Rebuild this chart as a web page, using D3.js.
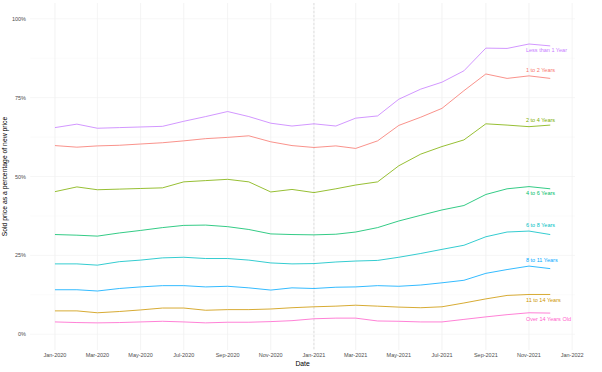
<script src="https://d3js.org/d3.v7.min.js"></script>
<style>
body {margin: 0; background: #fff;}
* {font-family: "Liberation Sans", Arial, sans-serif;}
</style>
<div id="chart"></div>
<script type="text/javascript">
// monthly observations
var months = ["2020-01","2020-02","2020-03","2020-04","2020-05","2020-06","2020-07","2020-08","2020-09","2020-10","2020-11","2020-12",
	"2021-01","2021-02","2021-03","2021-04","2021-05","2021-06","2021-07","2021-08","2021-09","2021-10","2021-11","2021-12"];

var groups = ["1 to 2 Years","11 to 14 Years","2 to 4 Years","4 to 6 Years","6 to 8 Years","8 to 11 Years","Less than 1 Year","Over 14 Years Old"];
var colours = ["#F8766D","#CD9600","#7CAE00","#00BE67","#00BFC4","#00A9FF","#C77CFF","#FF61CC"];

// sold price as % of new price
var oneToTwo = [59.8,59.3,59.7,59.9,60.3,60.7,61.3,62.0,62.4,62.9,61.0,59.8,59.2,59.7,58.9,61.3,66.2,68.8,71.6,77.2,82.5,81.1,81.9,81.1];
var elevenToFourteen = [7.4,7.4,6.8,7.2,7.7,8.3,8.3,7.6,7.8,7.8,8.0,8.4,8.7,8.9,9.2,8.9,8.6,8.4,8.7,9.9,11.2,12.3,12.6,12.6];
var twoToFour = [45.2,46.7,45.8,46.0,46.2,46.4,48.3,48.7,49.1,48.3,45.1,45.9,44.9,46.1,47.3,48.3,53.4,57.1,59.5,61.6,66.7,66.3,65.8,66.3];
var fourToSix = [31.6,31.4,31.1,32.1,32.9,33.8,34.5,34.6,34.1,33.2,31.8,31.6,31.5,31.7,32.4,33.8,35.9,37.7,39.4,40.8,44.3,46.1,46.8,46.1];
var sixToEight = [22.3,22.3,21.9,23.0,23.5,24.2,24.4,24.0,24.0,23.5,22.6,22.3,22.4,22.9,23.2,23.4,24.4,25.6,26.9,28.2,30.9,32.4,32.7,31.6];
var eightToEleven = [14.1,14.1,13.7,14.5,15.0,15.4,15.4,15.0,15.2,14.7,14.0,14.7,14.5,14.9,15.0,15.4,15.2,15.6,16.3,17.1,19.3,20.5,21.6,20.8];
var lessThanOne = [65.5,66.6,65.3,65.5,65.7,65.9,67.5,69.0,70.6,69.0,66.9,66.0,66.7,66.0,68.5,69.2,74.5,77.7,79.9,83.5,90.7,90.6,92.0,91.4];
var overFourteen = [3.9,3.7,3.6,3.7,3.9,4.1,3.9,3.6,3.8,3.8,4.0,4.3,4.9,5.1,5.1,4.2,4.1,3.9,3.9,4.7,5.5,6.2,6.8,6.7];

var seriesValues = [oneToTwo, elevenToFourteen, twoToFour, fourToSix, sixToEight, eightToEleven, lessThanOne, overFourteen];
// where each end label sits (% value)
var labelY = [83.9,10.7,68.0,44.9,34.6,23.4,90.2,4.7];
var labelDate = "2021-11-01";
var yTicks = [0,25,50,75,100];

var width = 602, height = 372;
var parse = d3.timeParse("%Y-%m");
var dates = months.map(parse);

var svg = d3.select("#chart").append("svg")
	.attr("width", width)
	.attr("height", height);

var padLeft = 30.2, padRight = 575, padTop = 3, padBottom = 350;

// ggplot style 5% expansion
var span = dates[dates.length-1] - dates[0];
var x = d3.scaleTime()
	.domain([new Date(+dates[0] - span*0.05), new Date(+dates[dates.length-1] + span*0.05)])
	.range([padLeft, padRight]);
var y = d3.scaleLinear()
	.domain([-5, 105])
	.range([padBottom, padTop]);

var xMajor = d3.timeMonth.every(2).range(new Date(2020,0,1), new Date(2022,0,2));
var xMinor = d3.timeMonth.every(2).range(new Date(2019,11,1), new Date(2022,1,2));

// minor grid
svg.append("g").selectAll("line").data(xMinor).enter().append("line")
	.attr("x1", function(d){ return x(d); })
	.attr("x2", function(d){ return x(d); })
	.attr("y1", padTop).attr("y2", padBottom)
	.attr("stroke", "#f6f6f6").attr("stroke-width", 0.4);
svg.append("g").selectAll("line").data([12.5,37.5,62.5,87.5]).enter().append("line")
	.attr("x1", padLeft).attr("x2", padRight)
	.attr("y1", function(d){ return y(d); })
	.attr("y2", function(d){ return y(d); })
	.attr("stroke", "#f6f6f6").attr("stroke-width", 0.4);

// major grid
svg.append("g").selectAll("line").data(xMajor).enter().append("line")
	.attr("x1", function(d){ return x(d); })
	.attr("x2", function(d){ return x(d); })
	.attr("y1", padTop).attr("y2", padBottom)
	.attr("stroke", "#f0f0f0").attr("stroke-width", 0.6);
svg.append("g").selectAll("line").data(yTicks).enter().append("line")
	.attr("x1", padLeft).attr("x2", padRight)
	.attr("y1", function(d){ return y(d); })
	.attr("y2", function(d){ return y(d); })
	.attr("stroke", "#f0f0f0").attr("stroke-width", 0.6);

// dashed marker at Jan 2021
svg.append("line")
	.attr("x1", x(new Date(2021,0,1))).attr("x2", x(new Date(2021,0,1)))
	.attr("y1", padTop).attr("y2", padBottom)
	.attr("stroke", "#d4d4d4").attr("stroke-width", 0.6)
	.attr("stroke-dasharray", "2,2");

// axes (text only, like theme_minimal)
var fmt = d3.timeFormat("%b-%Y");
svg.append("g").selectAll("text").data(xMajor).enter().append("text")
	.attr("x", function(d){ return x(d); })
	.attr("y", 357)
	.attr("text-anchor", "middle")
	.attr("font-size", "5.5px")
	.attr("fill", "#4d4d4d")
	.text(function(d){ return fmt(d); });
svg.append("g").selectAll("text").data(yTicks).enter().append("text")
	.attr("x", 26)
	.attr("y", function(d){ return y(d) + 2; })
	.attr("text-anchor", "end")
	.attr("font-size", "5.5px")
	.attr("fill", "#4d4d4d")
	.text(function(d){ return d + "%"; });

svg.append("text")
	.attr("x", (padLeft + padRight)/2)
	.attr("y", 366)
	.attr("text-anchor", "middle")
	.attr("font-size", "6.8px")
	.text("Date");
svg.append("text")
	.attr("transform", "translate(7," + ((padTop + padBottom)/2) + ") rotate(-90)")
	.attr("text-anchor", "middle")
	.attr("font-size", "6.8px")
	.text("Sold price as a percentage of new price");

// lines
var line = d3.line()
	.x(function(d, i){ return x(dates[i]); })
	.y(function(d){ return y(d); });

svg.append("g").selectAll("path").data(seriesValues).enter().append("path")
	.attr("d", line)
	.attr("fill", "none")
	.attr("stroke", function(d, i){ return colours[i]; })
	.attr("stroke-width", 0.8);

// end labels
var labelX = x(d3.timeParse("%Y-%m-%d")(labelDate)) - 3;
svg.append("g").selectAll("text").data(groups).enter().append("text")
	.attr("x", labelX)
	.attr("y", function(d, i){ return y(labelY[i]) + 2; })
	.attr("font-size", "5.5px")
	.attr("fill", function(d, i){ return colours[i]; })
	.text(function(d){ return d; });
</script>
